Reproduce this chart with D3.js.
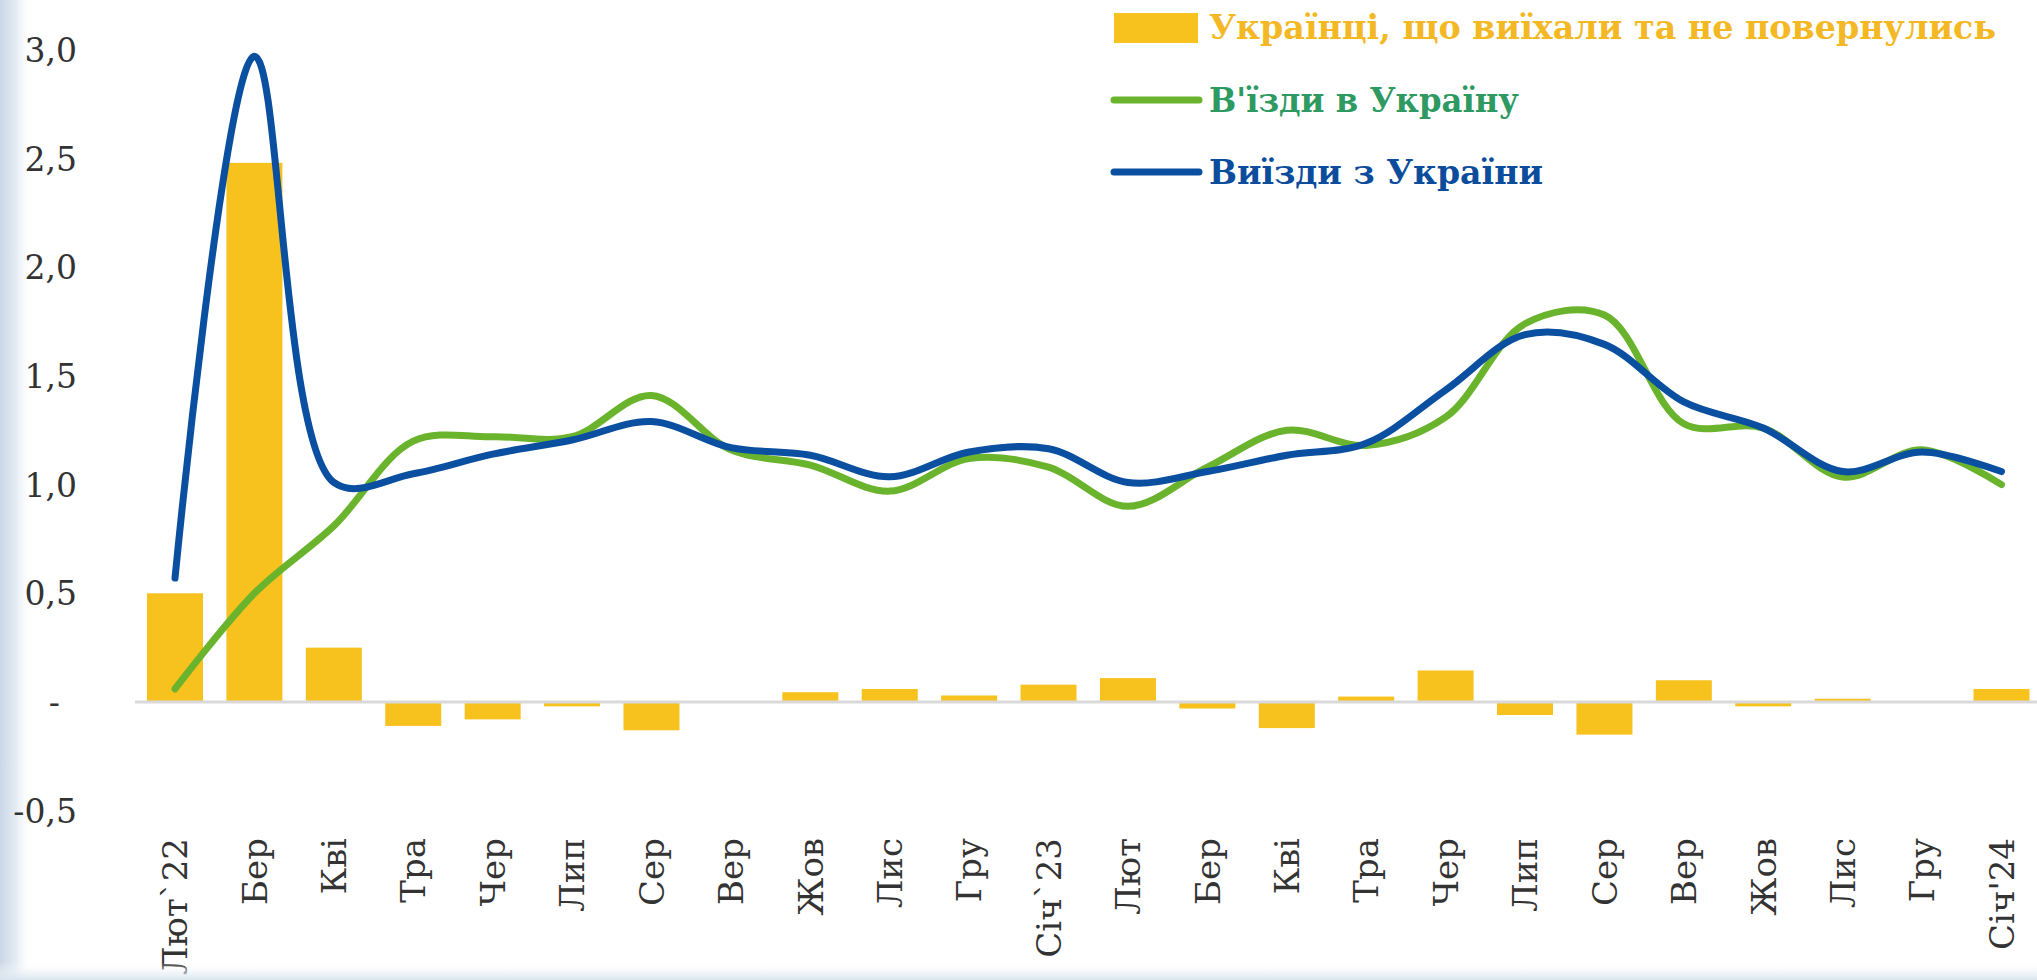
<!DOCTYPE html>
<html><head><meta charset="utf-8">
<script src="https://cdn.jsdelivr.net/npm/d3@7"></script>
<style>html,body{margin:0;padding:0;background:#fff;overflow:hidden}</style>
</head><body>
<svg id="chart" width="2037" height="980"></svg>
<script>
// ---- data ----
const months = ["Лют`22","Бер","Кві","Тра","Чер","Лип","Сер","Вер","Жов","Лис","Гру","Січ`23",
                "Лют","Бер","Кві","Тра","Чер","Лип","Сер","Вер","Жов","Лис","Гру","Січ'24"];
const stayedAbroad = [0.50, 2.48, 0.25, -0.11, -0.08, -0.02, -0.13, 0.00, 0.045, 0.06, 0.03, 0.08,
                      0.11, -0.03, -0.12, 0.025, 0.145, -0.06, -0.15, 0.10, -0.02, 0.015, 0.00, 0.06];
const entries = [0.06, 0.50, 0.81, 1.20, 1.22, 1.22, 1.41, 1.16, 1.09, 0.97, 1.12, 1.08,
                 0.90, 1.08, 1.25, 1.18, 1.31, 1.74, 1.78, 1.28, 1.26, 1.035, 1.16, 1.00];
const exits = [0.57, 2.97, 1.01, 1.05, 1.14, 1.205, 1.29, 1.17, 1.135, 1.036, 1.15, 1.165,
               1.01, 1.06, 1.135, 1.19, 1.435, 1.69, 1.645, 1.38, 1.26, 1.06, 1.15, 1.06];
const yTicks = [-0.5, 0, 0.5, 1.0, 1.5, 2.0, 2.5, 3.0];
const legendLabels = ["Українці, що виїхали та не повернулись", "В'їзди в Україну", "Виїзди з України"];

// ---- styles ----
const C = {
  bar: "#F7C11E", barText: "#F3B823",
  green: "#6AB42D", greenText: "#2E9A62",
  blue: "#0A4FA0", blueText: "#0B4C9C",
  axisText: "#333333", zero: "#D9D9D9"
};

const svg = d3.select("#chart");

// background edges (scan frame)
const defs = svg.append("defs");
const gl = defs.append("linearGradient").attr("id","leftEdge").attr("x1","0").attr("x2","1").attr("y1","0").attr("y2","0");
gl.append("stop").attr("offset","0").attr("stop-color","#c9d7e5");
gl.append("stop").attr("offset","0.5").attr("stop-color","#e4ecf4");
gl.append("stop").attr("offset","1").attr("stop-color","#ffffff").attr("stop-opacity",0);
const gb = defs.append("linearGradient").attr("id","bottomEdge").attr("x1","0").attr("x2","0").attr("y1","0").attr("y2","1");
gb.append("stop").attr("offset","0").attr("stop-color","#ffffff").attr("stop-opacity",0);
gb.append("stop").attr("offset","1").attr("stop-color","#d8e4ef");
svg.append("rect").attr("x",0).attr("y",0).attr("width",2037).attr("height",980).attr("fill","#fff");
svg.append("rect").attr("x",0).attr("y",0).attr("width",32).attr("height",980).attr("fill","url(#leftEdge)");

// ---- scales ----
const x = d3.scaleBand().domain(d3.range(months.length)).range([135.3, 2041.2])
  .paddingInner(0.295).paddingOuter(0.1475);
const y = d3.scaleLinear().domain([-0.5, 3.0]).range([810.7, 49.8]);
const cx = i => x(i) + x.bandwidth() / 2;

// ---- y axis ----
const fmt = v => v === 0 ? "-" : (v < 0 ? "-" : "") + Math.abs(v).toFixed(1).replace(".", ",");
const yAxis = svg.append("g").attr("transform", "translate(80,0)")
  .call(d3.axisLeft(y).tickValues(yTicks).tickFormat(fmt).tickSize(0).tickPadding(3));
yAxis.select(".domain").remove();
yAxis.selectAll("text")
  .attr("font-family", "'DejaVu Serif', serif").attr("font-size", 33).attr("fill", C.axisText)
  .attr("dy", "0.35em")
  .attr("dx", d => d === 0 ? -17 : 0);

// ---- bars ----
svg.append("g").selectAll("rect").data(stayedAbroad).join("rect")
  .attr("x", (d, i) => x(i))
  .attr("width", x.bandwidth())
  .attr("y", d => y(Math.max(0, d)))
  .attr("height", d => Math.abs(y(d) - y(0)))
  .attr("fill", C.bar);

// zero line
svg.append("line").attr("x1", 135).attr("x2", 2037).attr("y1", y(0)).attr("y2", y(0))
  .attr("stroke", C.zero).attr("stroke-width", 3);

// ---- x axis ----
const xAxis = svg.append("g").attr("transform", "translate(0,838)")
  .call(d3.axisBottom(x).tickFormat(i => months[i]).tickSize(0));
xAxis.select(".domain").remove();
xAxis.selectAll("text")
  .attr("font-family", "'DejaVu Serif', serif").attr("font-size", 34).attr("fill", C.axisText)
  .attr("x", 0).attr("y", 0).attr("dy", "0.36em")
  .attr("transform", "rotate(-90)").attr("text-anchor", "end");

// ---- lines ----
const line = d3.line().x((d, i) => cx(i)).y(d => y(d)).curve(d3.curveCatmullRom.alpha(0.5));
svg.append("path").datum(entries).attr("d", line).attr("fill", "none")
  .attr("stroke", C.green).attr("stroke-width", 7).attr("stroke-linecap", "round").attr("stroke-linejoin", "round");
svg.append("path").datum(exits).attr("d", line).attr("fill", "none")
  .attr("stroke", C.blue).attr("stroke-width", 7).attr("stroke-linecap", "round").attr("stroke-linejoin", "round");

// ---- legend ----
const lg = svg.append("g");
lg.append("rect").attr("x", 1114).attr("y", 13).attr("width", 84).attr("height", 30).attr("fill", C.bar);
lg.append("line").attr("x1", 1114).attr("x2", 1199).attr("y1", 100).attr("y2", 100)
  .attr("stroke", C.green).attr("stroke-width", 7).attr("stroke-linecap", "round");
lg.append("line").attr("x1", 1114).attr("x2", 1199).attr("y1", 172).attr("y2", 172)
  .attr("stroke", C.blue).attr("stroke-width", 7).attr("stroke-linecap", "round");
const legendText = [
  {t: legendLabels[0], y: 39, c: C.barText, w: 787},
  {t: legendLabels[1], y: 112, c: C.greenText, w: 310},
  {t: legendLabels[2], y: 184, c: C.blueText, w: 334}
];
lg.selectAll("text.lt").data(legendText).join("text").attr("class", "lt")
  .attr("x", 1209).attr("y", d => d.y).text(d => d.t)
  .attr("font-family", "'DejaVu Serif', serif").attr("font-weight", "bold").attr("font-size", 33)
  .attr("fill", d => d.c)
  .attr("textLength", d => d.w).attr("lengthAdjust", "spacingAndGlyphs");

// bottom edge
svg.append("rect").attr("x",0).attr("y",962).attr("width",2037).attr("height",18).attr("fill","url(#bottomEdge)");
</script>
</body></html>
